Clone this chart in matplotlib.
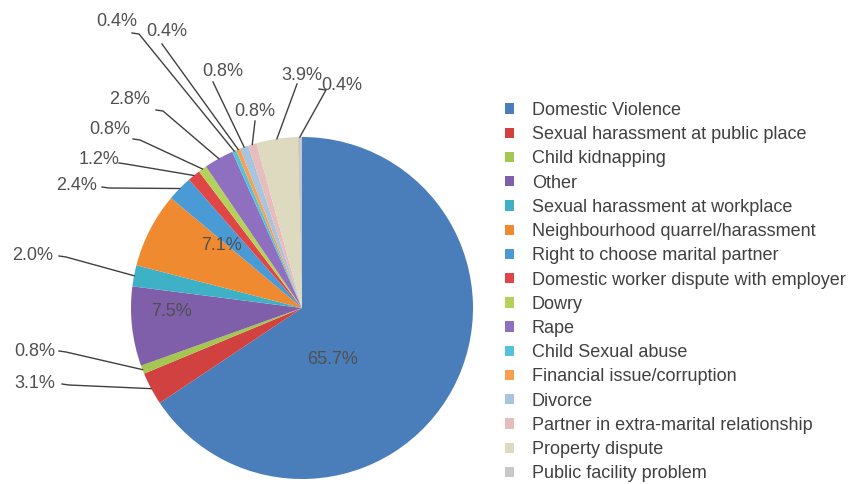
import numpy as np
import matplotlib
matplotlib.use("Agg")
import matplotlib.pyplot as plt

plt.rcParams["font.family"] = ["Liberation Sans", "DejaVu Sans"]

categories = [
    "Domestic Violence",
    "Sexual harassment at public place",
    "Child kidnapping",
    "Other",
    "Sexual harassment at workplace",
    "Neighbourhood quarrel/harassment",
    "Right to choose marital partner",
    "Domestic worker dispute with employer",
    "Dowry",
    "Rape",
    "Child Sexual abuse",
    "Financial issue/corruption",
    "Divorce",
    "Partner in extra-marital relationship",
    "Property dispute",
    "Public facility problem",
]
percent = [65.7, 3.1, 0.8, 7.5, 2.0, 7.1, 2.4, 1.2, 0.8, 2.8, 0.4, 0.4, 0.8, 0.8, 3.9, 0.4]

colors = ["#4A7EBB", "#D0413F", "#A5C650", "#7F5FAA", "#3FB1C6", "#F08A30",
          "#4A9AD6", "#E04646", "#B4D25A", "#8E6FC0", "#55C2D8", "#F8A050",
          "#A8C4DF", "#E7BCBC", "#DDDAC0", "#C8C8C8"]

# label layout in pixels (text centre x, y, line start x, y); None start = inside label
label_layout = [
    (333, 360, None, None),
    (35, 384, 62, 384),
    (35, 351, 59, 351),
    (172, 312, None, None),
    (33, 255, 59, 256),
    (222, 246, None, None),
    (77, 185, 102, 187),
    (99, 159, 119, 163),
    (110, 130, 133, 139),
    (130, 99, 156, 110),
    (117, 22, 132, 33),
    (167, 32, 162, 44),
    (223, 71, 213, 82),
    (255, 112, 255, 121),
    (302, 76, 297, 84),
    (342, 86, 319, 89),
]

W, H = 852, 484
cx, cy, r = 302, H - 308, 171

fig = plt.figure(figsize=(W / 100, H / 100), dpi=100)
ax = fig.add_axes([0, 0, 1, 1])
wedges, _ = ax.pie(percent, colors=colors, startangle=90, counterclock=False,
                   center=(cx, cy), radius=r, wedgeprops=dict(linewidth=0))
ax.set_xlim(0, W)
ax.set_ylim(0, H)
ax.set_aspect("equal")
ax.axis("off")

txt_color = "#505050"
for w, v, (tx, ty, sx, sy) in zip(wedges, percent, label_layout):
    ax.text(tx, H - ty, f"{v:.1f}%", ha="center", va="center",
            fontsize=13, color=txt_color)
    if sx is None:
        continue
    mid = np.deg2rad((w.theta1 + w.theta2) / 2)
    ex, ey = cx + r * np.cos(mid), cy + r * np.sin(mid)
    if sx < tx + 10 and sy > ty + 6:
        xs, ys = [sx, ex], [H - sy, ey]
    else:
        xs, ys = [sx, sx + 7, ex], [H - sy, H - sy - 1, ey]
    ax.plot(xs, ys, color="#404040", lw=1)

leg = ax.legend(wedges, categories, loc="upper left",
                bbox_to_anchor=(505 / W, 1 - 102 / H), bbox_transform=fig.transFigure,
                frameon=False, fontsize=13, handlelength=0.5, handleheight=0.5,
                handletextpad=0.98, labelspacing=0.40, borderpad=0, borderaxespad=0)
for t in leg.get_texts():
    t.set_color("#404040")

plt.savefig("out.png", dpi=100)
